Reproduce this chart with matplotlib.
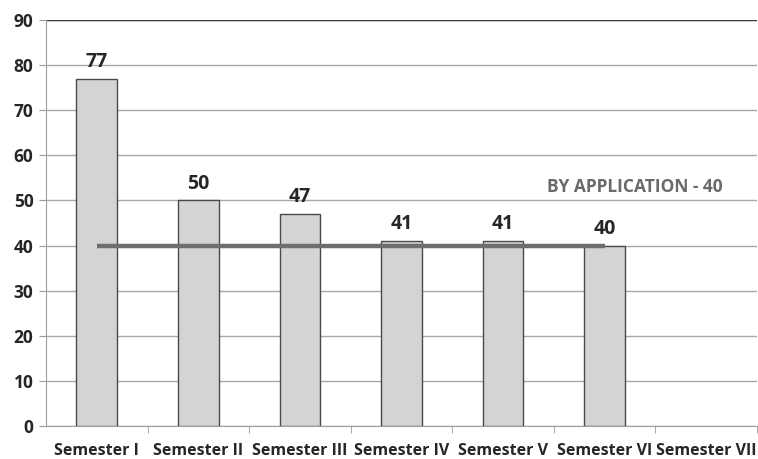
import matplotlib
matplotlib.use("Agg")
import matplotlib.pyplot as plt

categories = ["Semester I", "Semester II", "Semester III", "Semester IV",
              "Semester V", "Semester VI", "Semester VII"]
values = [77, 50, 47, 41, 41, 40, None]
reference_value = 40
reference_label = "BY APPLICATION - 40"
yticks = [0, 10, 20, 30, 40, 50, 60, 70, 80, 90]

plt.rcParams['font.family'] = ['Open Sans', 'DejaVu Sans']

fig = plt.figure(figsize=(7.58, 4.59), dpi=100)
ax = fig.add_axes([46/758, 1 - 426/459, 1 - 46/758 - 1/758, (426 - 20)/459])

xs = [i for i, v in enumerate(values) if v is not None]
vs = [v for v in values if v is not None]
ax.bar(xs, vs, width=0.4, color="#d4d4d4", edgecolor="#4a4a4a", linewidth=1.0, zorder=3)
for x, v in zip(xs, vs):
    ax.text(x, v + 1.5, str(v), ha="center", va="bottom", fontsize=14,
            fontweight="bold", color="#262626", zorder=4)

ax.plot([xs[0], xs[-1]], [reference_value, reference_value], color="#6e6e6e",
        linewidth=3.2, zorder=5, solid_capstyle="butt")
ax.text(5.3, 53, reference_label, ha="center", va="center", fontsize=12.5,
        fontweight="bold", color="#6a6a6a")

ax.set_xlim(-0.5, len(categories) - 0.5)
ax.set_ylim(0, 90)
ax.set_yticks(yticks)
ax.set_yticklabels([str(t) for t in yticks], fontsize=12.5, fontweight="bold", color="#262626")
ax.set_xticks(range(len(categories)))
ax.set_xticklabels(categories, fontsize=11.5, fontweight="bold", color="#262626")
ax.tick_params(axis="x", length=0, pad=12)
ax.tick_params(axis="y", length=5, color="#9a9a9a", pad=4)
ax.set_xticks([i + 0.5 for i in range(len(categories))], minor=True)
ax.tick_params(axis="x", which="minor", length=5, color="#9a9a9a")

ax.yaxis.grid(True, color="#a8a8a8", linewidth=1.0, zorder=0)
ax.set_axisbelow(True)
for s in ["top", "right"]:
    ax.spines[s].set_visible(False)
ax.spines["left"].set_color("#a0a0a0")
ax.spines["bottom"].set_color("#a0a0a0")
ax.axhline(90, color="#404040", linewidth=1.0, zorder=1)

fig.savefig("out.png", dpi=100, facecolor="white")
